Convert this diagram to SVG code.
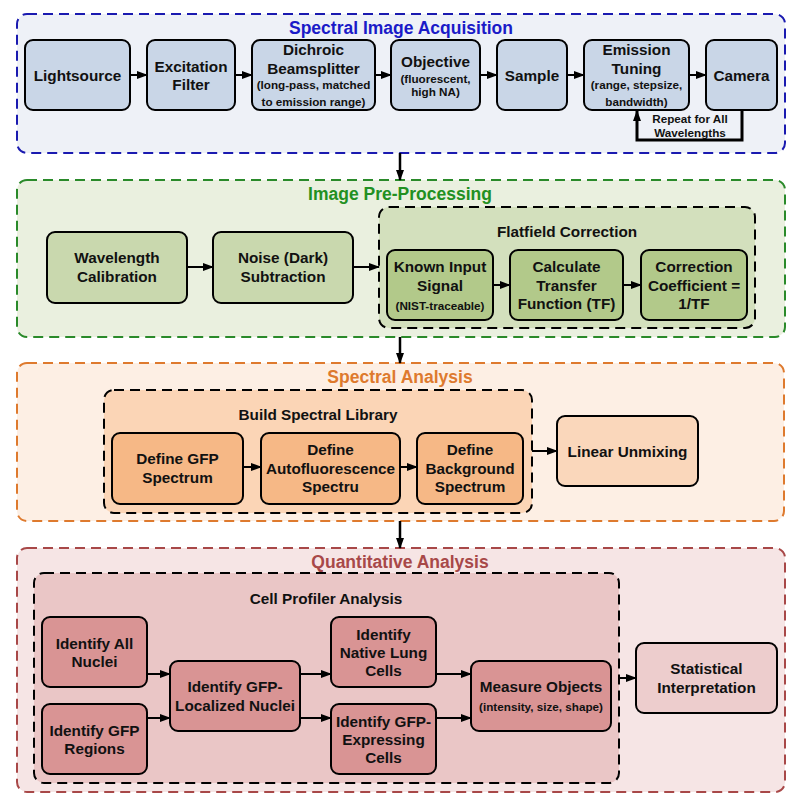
<svg xmlns="http://www.w3.org/2000/svg" width="800" height="806" viewBox="0 0 800 806">
<defs>
<marker id="ah" markerUnits="userSpaceOnUse" markerWidth="11" markerHeight="8" refX="10" refY="4" orient="auto">
<path d="M0,0 L11,4 L0,8 z" fill="#000"/>
</marker>
<style>
.cl{stroke-width:2;stroke-dasharray:10,6}
.in{stroke:#000;stroke-width:2;stroke-dasharray:10,6}
.nd{stroke:#000;stroke-width:2}
text{font-family:"Liberation Sans",Arial,sans-serif;font-weight:bold;text-anchor:middle;dominant-baseline:central;fill:#111}
.t{font-size:15.3px}
.s{font-size:11.7px}
.ct{font-size:17.5px}
.it{font-size:15.3px}
.e{stroke:#000;stroke-width:2;fill:none}
</style>
</defs>
<rect width="800" height="806" fill="#fff"/>

<g id="cluster_acq">
<rect class="cl" x="17" y="14" width="768" height="139" rx="10" fill="#eef1f7" stroke="#1a1ab0"/>
<text class="ct" x="401" y="28" style="fill:#1a1ac8">Spectral Image Acquisition</text>
</g>
<g id="cluster_pre">
<rect class="cl" x="17" y="180" width="768" height="157" rx="10" fill="#eaf0df" stroke="#2a8a2a"/>
<text class="ct" x="400" y="194" style="fill:#229022">Image Pre-Processing</text>
</g>
<g id="cluster_flat">
<rect class="in" x="379" y="207" width="376" height="121" rx="10" fill="#d3e0bd"/>
<text class="it" x="567" y="231">Flatfield Correction</text>
</g>
<g id="cluster_spec">
<rect class="cl" x="17" y="363" width="767" height="158" rx="10" fill="#fdefe4" stroke="#de7a2e"/>
<text class="ct" x="400" y="377" style="fill:#de7a2e">Spectral Analysis</text>
</g>
<g id="cluster_lib">
<rect class="in" x="104" y="390" width="428" height="123" rx="10" fill="#fbd5b6"/>
<text class="it" x="318" y="414">Build Spectral Library</text>
</g>
<g id="cluster_quant">
<rect class="cl" x="17" y="548" width="768" height="244" rx="10" fill="#f6e5e5" stroke="#a84848"/>
<text class="ct" x="400" y="562" style="fill:#a84848">Quantitative Analysis</text>
</g>
<g id="cluster_cp">
<rect class="in" x="34" y="573" width="585" height="210" rx="10" fill="#eac6c6"/>
<text class="it" x="326" y="598">Cell Profiler Analysis</text>
</g>

<!-- Acquisition nodes -->
<g id="lightsource">
<rect class="nd" x="25" y="40" width="105" height="70" rx="8" fill="#c9d6e7"/>
<text class="t" x="77.5" y="75">Lightsource</text>
</g>
<g id="excitation">
<rect class="nd" x="147" y="40" width="88" height="70" rx="8" fill="#c9d6e7"/>
<text class="t" x="191" y="66">Excitation</text>
<text class="t" x="191" y="84">Filter</text>
</g>
<g id="dichroic">
<rect class="nd" x="252" y="40" width="123" height="70" rx="8" fill="#c9d6e7"/>
<text class="t" x="313.5" y="49">Dichroic</text>
<text class="t" x="313.5" y="68">Beamsplitter</text>
<text class="s" x="313.5" y="84">(long-pass, matched</text>
<text class="s" x="313.5" y="101">to emission range)</text>
</g>
<g id="objective">
<rect class="nd" x="391" y="40" width="89" height="70" rx="8" fill="#c9d6e7"/>
<text class="t" x="435.5" y="61">Objective</text>
<text class="s" x="435.5" y="78">(fluorescent,</text>
<text class="s" x="435.5" y="91">high NA)</text>
</g>
<g id="sample">
<rect class="nd" x="497" y="40" width="70" height="70" rx="8" fill="#c9d6e7"/>
<text class="t" x="532" y="75">Sample</text>
</g>
<g id="emission">
<rect class="nd" x="584" y="40" width="105" height="70" rx="8" fill="#c9d6e7"/>
<text class="t" x="636.5" y="49">Emission</text>
<text class="t" x="636.5" y="68">Tuning</text>
<text class="s" x="636.5" y="84">(range, stepsize,</text>
<text class="s" x="636.5" y="101">bandwidth)</text>
</g>
<g id="camera">
<rect class="nd" x="706" y="40" width="71" height="70" rx="8" fill="#c9d6e7"/>
<text class="t" x="741.5" y="75">Camera</text>
</g>

<!-- Pre-processing nodes -->
<g id="wavelength">
<rect class="nd" x="47" y="232" width="140" height="71" rx="8" fill="#c9d8ae"/>
<text class="t" x="117" y="257">Wavelength</text>
<text class="t" x="117" y="276">Calibration</text>
</g>
<g id="noise">
<rect class="nd" x="213" y="232" width="140" height="71" rx="8" fill="#c9d8ae"/>
<text class="t" x="283" y="257">Noise (Dark)</text>
<text class="t" x="283" y="276">Subtraction</text>
</g>
<g id="known">
<rect class="nd" x="387" y="250" width="106" height="70" rx="8" fill="#b2c98a"/>
<text class="t" x="440" y="266">Known Input</text>
<text class="t" x="440" y="285">Signal</text>
<text class="s" x="440" y="305">(NIST-traceable)</text>
</g>
<g id="transfer">
<rect class="nd" x="510" y="250" width="113" height="70" rx="8" fill="#b2c98a"/>
<text class="t" x="566.5" y="266">Calculate</text>
<text class="t" x="566.5" y="285">Transfer</text>
<text class="t" x="566.5" y="303">Function (TF)</text>
</g>
<g id="coefficient">
<rect class="nd" x="641" y="250" width="106" height="70" rx="8" fill="#b2c98a"/>
<text class="t" x="694" y="266">Correction</text>
<text class="t" x="694" y="285">Coefficient =</text>
<text class="t" x="694" y="303">1/TF</text>
</g>

<!-- Spectral analysis nodes -->
<g id="gfp_spec">
<rect class="nd" x="112" y="433" width="131" height="71" rx="8" fill="#f6b886"/>
<text class="t" x="177.5" y="458">Define GFP</text>
<text class="t" x="177.5" y="477">Spectrum</text>
</g>
<g id="auto_spec">
<rect class="nd" x="261" y="433" width="139" height="71" rx="8" fill="#f6b886"/>
<text class="t" x="330.5" y="449">Define</text>
<text class="t" x="330.5" y="468">Autofluorescence</text>
<text class="t" x="330.5" y="486">Spectru</text>
</g>
<g id="bg_spec">
<rect class="nd" x="417" y="433" width="106" height="71" rx="8" fill="#f6b886"/>
<text class="t" x="470" y="449">Define</text>
<text class="t" x="470" y="468">Background</text>
<text class="t" x="470" y="486">Spectrum</text>
</g>
<g id="unmixing">
<rect class="nd" x="557" y="416" width="141" height="70" rx="8" fill="#fad7bb"/>
<text class="t" x="627.5" y="451">Linear Unmixing</text>
</g>

<!-- Quantitative nodes -->
<g id="all_nuclei">
<rect class="nd" x="42" y="617" width="105" height="70" rx="8" fill="#d99494"/>
<text class="t" x="94.5" y="643">Identify All</text>
<text class="t" x="94.5" y="661">Nuclei</text>
</g>
<g id="gfp_regions">
<rect class="nd" x="42" y="704" width="105" height="70" rx="8" fill="#d99494"/>
<text class="t" x="94.5" y="730">Identify GFP</text>
<text class="t" x="94.5" y="748">Regions</text>
</g>
<g id="gfp_nuclei">
<rect class="nd" x="170" y="661" width="130" height="70" rx="8" fill="#d99494"/>
<text class="t" x="235" y="686">Identify GFP-</text>
<text class="t" x="235" y="705">Localized Nuclei</text>
</g>
<g id="native_lung">
<rect class="nd" x="331" y="617" width="105" height="70" rx="8" fill="#d99494"/>
<text class="t" x="383.5" y="634">Identify</text>
<text class="t" x="383.5" y="652">Native Lung</text>
<text class="t" x="383.5" y="670">Cells</text>
</g>
<g id="gfp_expressing">
<rect class="nd" x="331" y="704" width="105" height="70" rx="8" fill="#d99494"/>
<text class="t" x="383.5" y="721">Identify GFP-</text>
<text class="t" x="383.5" y="739">Expressing</text>
<text class="t" x="383.5" y="757">Cells</text>
</g>
<g id="measure">
<rect class="nd" x="471" y="661" width="140" height="70" rx="8" fill="#d99494"/>
<text class="t" x="541" y="686">Measure Objects</text>
<text class="s" x="541" y="706">(intensity, size, shape)</text>
</g>
<g id="statistical">
<rect class="nd" x="636" y="643" width="141" height="70" rx="8" fill="#edcdcd"/>
<text class="t" x="706.5" y="668">Statistical</text>
<text class="t" x="706.5" y="687">Interpretation</text>
</g>

<g id="edges">
<line class="e" x1="130" y1="75" x2="147" y2="75" marker-end="url(#ah)"/>
<line class="e" x1="235" y1="75" x2="252" y2="75" marker-end="url(#ah)"/>
<line class="e" x1="375" y1="75" x2="391" y2="75" marker-end="url(#ah)"/>
<line class="e" x1="480" y1="75" x2="497" y2="75" marker-end="url(#ah)"/>
<line class="e" x1="567" y1="75" x2="584" y2="75" marker-end="url(#ah)"/>
<line class="e" x1="689" y1="75" x2="706" y2="75" marker-end="url(#ah)"/>
<polyline class="e" points="742,110 742,140 637,140 637,111" marker-end="url(#ah)" style="stroke-width:3"/>
<text class="s" x="690" y="118">Repeat for All</text>
<text class="s" x="690" y="132">Wavelengths</text>

<line class="e" x1="400" y1="153" x2="400" y2="180" marker-end="url(#ah)" style="stroke-width:2.5"/>
<line class="e" x1="187" y1="267" x2="213" y2="267" marker-end="url(#ah)"/>
<line class="e" x1="353" y1="267" x2="379" y2="267" marker-end="url(#ah)"/>
<line class="e" x1="493" y1="285" x2="510" y2="285" marker-end="url(#ah)"/>
<line class="e" x1="623" y1="285" x2="641" y2="285" marker-end="url(#ah)"/>

<line class="e" x1="400" y1="337" x2="400" y2="363" marker-end="url(#ah)" style="stroke-width:2.5"/>
<line class="e" x1="243" y1="467" x2="261" y2="467" marker-end="url(#ah)"/>
<line class="e" x1="400" y1="467" x2="417" y2="467" marker-end="url(#ah)"/>
<line class="e" x1="532" y1="451" x2="557" y2="451" marker-end="url(#ah)"/>

<line class="e" x1="400" y1="521" x2="400" y2="548" marker-end="url(#ah)" style="stroke-width:2.5"/>
<line class="e" x1="147" y1="674" x2="170" y2="674" marker-end="url(#ah)"/>
<line class="e" x1="147" y1="718" x2="170" y2="718" marker-end="url(#ah)"/>
<line class="e" x1="300" y1="674" x2="331" y2="674" marker-end="url(#ah)"/>
<line class="e" x1="300" y1="718" x2="331" y2="718" marker-end="url(#ah)"/>
<line class="e" x1="436" y1="674" x2="471" y2="674" marker-end="url(#ah)"/>
<line class="e" x1="436" y1="718" x2="471" y2="718" marker-end="url(#ah)"/>
<line class="e" x1="619" y1="678" x2="636" y2="678" marker-end="url(#ah)"/>
</g>
</svg>
